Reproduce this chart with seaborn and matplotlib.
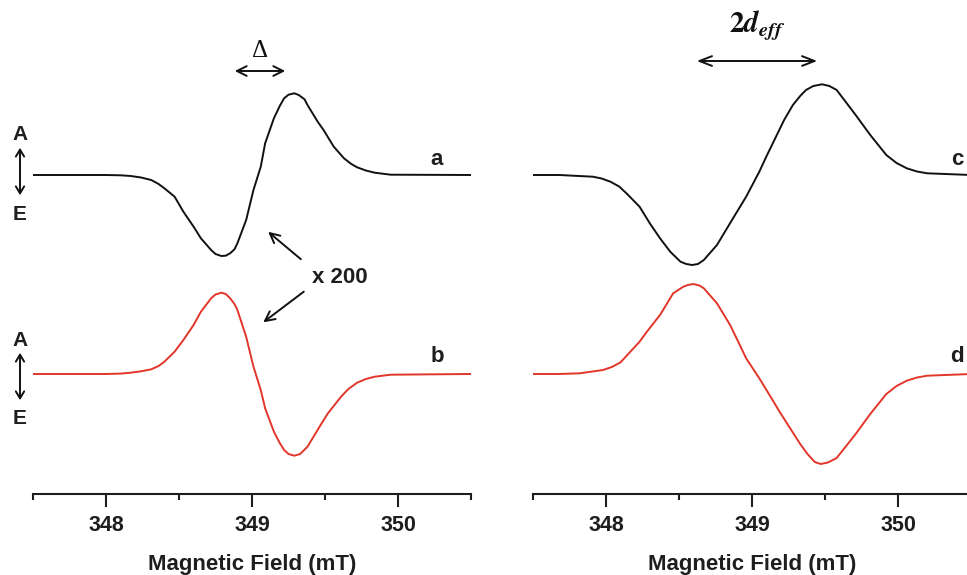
import numpy as np
import matplotlib
matplotlib.use("Agg")
import matplotlib.pyplot as plt
import seaborn as sns

# ---- data (field in mT, signal in arbitrary units) ----
field_a = [347.50, 348.00, 348.10, 348.17, 348.24, 348.31, 348.36, 348.40, 348.47,
           348.53, 348.60, 348.65, 348.72, 348.75, 348.79, 348.82, 348.85, 348.88,
           348.90, 348.96, 349.01, 349.06, 349.09, 349.15, 349.19, 349.22, 349.25,
           349.29, 349.32, 349.36, 349.38, 349.45, 349.49, 349.56, 349.63, 349.68,
           349.72, 349.78, 349.84, 349.95, 350.50]
signal_a = [0.0, 0.0, -0.003, -0.01, -0.025, -0.05, -0.09, -0.133, -0.217,
            -0.367, -0.517, -0.633, -0.75, -0.79, -0.81, -0.807, -0.783, -0.743,
            -0.683, -0.45, -0.15, 0.083, 0.317, 0.567, 0.69, 0.767, 0.803,
            0.817, 0.80, 0.757, 0.70, 0.533, 0.45, 0.283, 0.167, 0.11,
            0.077, 0.045, 0.023, 0.003, 0.0]

field_b = [347.50, 348.00, 348.10, 348.17, 348.24, 348.31, 348.36, 348.40, 348.47,
           348.53, 348.60, 348.65, 348.72, 348.75, 348.79, 348.82, 348.85, 348.88,
           348.90, 348.96, 349.01, 349.06, 349.09, 349.15, 349.19, 349.22, 349.25,
           349.29, 349.33, 349.38, 349.47, 349.52, 349.61, 349.66, 349.72, 349.78,
           349.84, 349.95, 350.50]
signal_b = [0.0, 0.0, 0.004, 0.013, 0.027, 0.047, 0.08, 0.123, 0.223,
            0.34, 0.49, 0.623, 0.757, 0.795, 0.813, 0.80, 0.757, 0.70,
            0.64, 0.373, 0.073, -0.16, -0.343, -0.577, -0.69, -0.76, -0.80,
            -0.817, -0.80, -0.727, -0.51, -0.393, -0.227, -0.15, -0.087, -0.05,
            -0.027, -0.007, 0.0]

field_c = [347.50, 347.68, 347.91, 347.97, 348.03, 348.09, 348.14, 348.23, 348.30,
           348.37, 348.44, 348.51, 348.55, 348.59, 348.63, 348.67, 348.76, 348.87,
           348.96, 349.05, 349.10, 349.17, 349.22, 349.28, 349.33, 349.37, 349.42,
           349.48, 349.53, 349.58, 349.71, 349.81, 349.92, 349.99, 350.06, 350.13,
           350.20, 350.50]
signal_c = [0.0, 0.0, -0.017, -0.035, -0.067, -0.115, -0.183, -0.317, -0.483,
            -0.633, -0.767, -0.867, -0.89, -0.90, -0.89, -0.85, -0.70, -0.433,
            -0.217, 0.033, 0.19, 0.40, 0.55, 0.70, 0.79, 0.85, 0.89,
            0.907, 0.89, 0.85, 0.60, 0.40, 0.20, 0.12, 0.067, 0.035,
            0.017, 0.0]

field_d = [347.50, 347.68, 347.82, 347.98, 348.04, 348.10, 348.23, 348.28, 348.37,
           348.46, 348.53, 348.56, 348.60, 348.64, 348.67, 348.76, 348.85, 348.90,
           348.96, 349.05, 349.12, 349.19, 349.26, 349.33, 349.38, 349.43, 349.47,
           349.52, 349.58, 349.71, 349.81, 349.92, 349.99, 350.06, 350.13, 350.20,
           350.50]
signal_d = [0.0, 0.0, 0.007, 0.04, 0.07, 0.117, 0.323, 0.423, 0.59,
            0.807, 0.873, 0.89, 0.90, 0.885, 0.857, 0.707, 0.49, 0.34,
            0.157, -0.043, -0.21, -0.38, -0.54, -0.70, -0.80, -0.88, -0.90,
            -0.885, -0.84, -0.60, -0.40, -0.20, -0.12, -0.067, -0.035, -0.017,
            0.0]

field_ticks = [348, 349, 350]
field_minor = [347.5, 348.5, 349.5, 350.5]

sns.set_theme(style="ticks")
plt.rcParams["font.family"] = ["Liberation Sans", "DejaVu Sans"]
plt.rcParams["font.weight"] = "bold"

BLACK = "#111111"
TEXT = "#1e1e1e"
RED = "#e2362b"
OFFSET = -1.99  # vertical shift of the lower (x 200) traces

fig = plt.figure(figsize=(9.67, 5.75), dpi=100)
W, H = 967, 575


def fx(px):
    return px / W


def fy(py):
    return 1 - py / H


ax_l = fig.add_axes([fx(33), fy(494), (471 - 33) / W, (494 - 40) / H])
ax_r = fig.add_axes([fx(533), fy(494), (471 - 33) / W, (494 - 40) / H])

pairs = [
    (ax_l, field_a, signal_a, field_b, signal_b),
    (ax_r, field_c, signal_c, field_d, signal_d),
]

for ax, fa, sa, fb, sb in pairs:
    sns.lineplot(x=fa, y=sa, ax=ax, color=BLACK, lw=1.4, estimator=None, sort=False)
    sns.lineplot(x=fb, y=np.array(sb) + OFFSET, ax=ax, color=RED, lw=1.4,
                 estimator=None, sort=False)
    for ln in ax.lines:
        ln.set_solid_joinstyle("round")
    ax.set_xlim(347.5, 350.5)
    ax.set_ylim(-3.19, 1.35)
    ax.set_xticks(field_ticks)
    ax.set_xticks(field_minor, minor=True)
    ax.set_xticklabels([str(t) for t in field_ticks], fontsize=15.5, fontweight="bold",
                       color=TEXT)
    ax.tick_params(axis="x", which="major", length=9, width=1.5, pad=6, color=TEXT)
    ax.tick_params(axis="x", which="minor", length=4, width=1.5, color=TEXT)
    ax.set_yticks([])
    sns.despine(ax=ax, left=True)
    ax.spines["bottom"].set_linewidth(1.5)
    ax.spines["bottom"].set_color(TEXT)
    ax.set_xlabel("Magnetic Field (mT)", fontsize=16, fontweight="bold",
                  color=TEXT, labelpad=13)
    ax.patch.set_alpha(0)

# trace letters
for px, py, s in [(437, 160, "a"), (437, 356, "b"), (957, 160, "c"), (957, 356, "d")]:
    fig.text(fx(px), fy(py), s, fontsize=16, fontweight="bold", color=TEXT,
             ha="center", va="center")

# A / E markers with vertical double arrows
for top in (135, 340):
    fig.text(fx(20), fy(top), "A", fontsize=15, fontweight="bold", color=TEXT,
             ha="center", va="center")
    fig.text(fx(20), fy(top + 79), "E", fontsize=15, fontweight="bold", color=TEXT,
             ha="center", va="center")
    fig.add_artist(matplotlib.patches.FancyArrowPatch(
        (fx(20), fy(top + 10)), (fx(20), fy(top + 63)), transform=fig.transFigure,
        arrowstyle="<->,head_length=5,head_width=3", lw=1.4, color=BLACK))

# Delta arrow (left panel)
fig.add_artist(matplotlib.patches.FancyArrowPatch(
    (fx(232), fy(71)), (fx(288), fy(71)), transform=fig.transFigure,
    arrowstyle="<->,head_length=7,head_width=3.5", lw=1.4, color=BLACK))
fig.text(fx(260), fy(51), "Δ", fontsize=18, family=["Liberation Serif", "DejaVu Serif"],
         fontweight="normal", ha="center", va="center", color=BLACK)

# 2d_eff arrow (right panel)
fig.add_artist(matplotlib.patches.FancyArrowPatch(
    (fx(694), fy(61)), (fx(820), fy(61)), transform=fig.transFigure,
    arrowstyle="<->,head_length=9,head_width=3.5", lw=1.4, color=BLACK))
fig.text(fx(757), fy(33), r"$\mathbf{2}\mathbfit{d}_{\mathbfit{eff}}$", fontsize=21,
         math_fontfamily="stix", ha="center", va="baseline", color=BLACK)

# x 200 callout
fig.text(fx(340), fy(277), "x 200", fontsize=16, fontweight="bold", color=TEXT,
         ha="center", va="center")
fig.add_artist(matplotlib.patches.FancyArrowPatch(
    (fx(303), fy(261)), (fx(266), fy(230)), transform=fig.transFigure,
    arrowstyle="->,head_length=7,head_width=3.5", lw=1.4, color=BLACK))
fig.add_artist(matplotlib.patches.FancyArrowPatch(
    (fx(306), fy(290)), (fx(261), fy(324)), transform=fig.transFigure,
    arrowstyle="->,head_length=7,head_width=3.5", lw=1.4, color=BLACK))

fig.savefig("out.png", dpi=100, facecolor="white")
